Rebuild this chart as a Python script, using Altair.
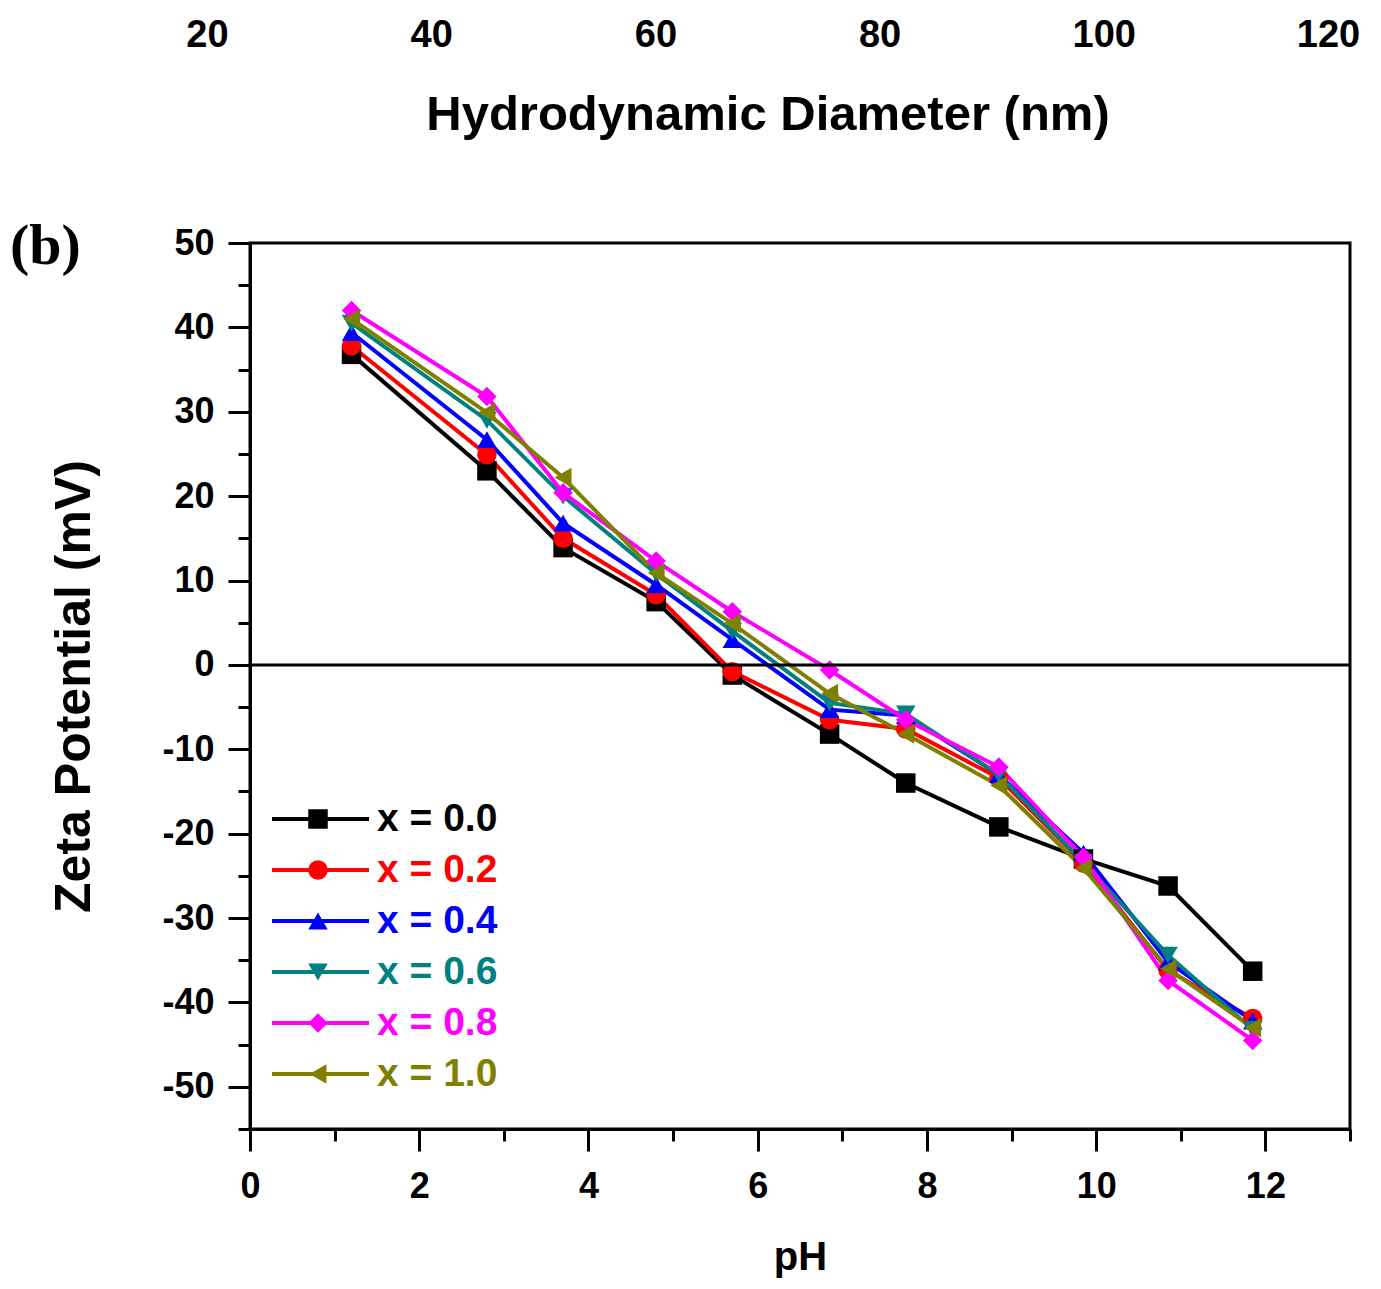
import altair as alt
import pandas as pd

# ---- data ----
ph = [1.2, 2.8, 3.7, 4.8, 5.7, 6.85, 7.75, 8.85, 9.85, 10.85, 11.85]
series_names = ["x = 0.0", "x = 0.2", "x = 0.4", "x = 0.6", "x = 0.8", "x = 1.0"]
zeta_00 = [36.8, 23.0, 13.9, 7.5, -1.2, -8.2, -14.0, -19.2, -23.0, -26.2, -36.3]
zeta_02 = [37.8, 24.9, 15.0, 8.3, -0.8, -6.5, -7.6, -13.4, -23.5, -36.2, -41.9]
zeta_04 = [39.4, 26.7, 16.8, 9.5, 3.0, -5.3, -6.0, -13.0, -22.3, -35.2, -42.2]
zeta_06 = [40.5, 29.0, 20.0, 10.8, 4.0, -4.5, -5.8, -13.0, -23.4, -34.4, -43.2]
zeta_08 = [42.0, 31.8, 20.4, 12.3, 6.3, -0.6, -6.5, -12.1, -22.8, -37.4, -44.5]
zeta_10 = [41.0, 29.9, 22.2, 10.9, 4.9, -3.4, -8.2, -14.3, -24.1, -36.0, -43.0]
all_zeta = [zeta_00, zeta_02, zeta_04, zeta_06, zeta_08, zeta_10]

colors = ["#000000", "#ff0000", "#0000ff", "#008080", "#ff00ff", "#808000"]
shapes = ["square", "circle", "triangle-up", "triangle-down", "diamond", "triangle-left"]

x_major = [0, 2, 4, 6, 8, 10, 12]
x_minor = [1, 3, 5, 7, 9, 11, 13]
y_major = [-50, -40, -30, -20, -10, 0, 10, 20, 30, 40, 50]
y_minor = [-55, -45, -35, -25, -15, -5, 5, 15, 25, 35, 45]
diam_ticks = [20, 40, 60, 80, 100, 120]
panel_label = ["(b)"]

rows = []
for name, vals in zip(series_names, all_zeta):
    for p, z in zip(ph, vals):
        rows.append({"pH": p, "zeta": z, "series": name, "series_m": name})
df = pd.DataFrame(rows)

FONT = "Liberation Sans"

color_expr = ""
for name, col in zip(series_names[:-1], colors[:-1]):
    color_expr += f"datum.value == '{name}' ? '{col}' : "
color_expr += f"'{colors[-1]}'"

line_legend = alt.Legend(
    orient="none", legendX=20, legendY=784, title=None,
    symbolType="stroke", symbolSize=9409, symbolStrokeWidth=4,
    labelFontSize=39, labelFont=FONT, labelFontWeight="bold", labelOffset=6,
    clipHeight=40, rowPadding=11, padding=0,
    labelColor={"expr": color_expr},
)
marker_legend = alt.Legend(
    orient="none", legendX=58, legendY=784, title=None,
    symbolSize=380, symbolStrokeWidth=0, labelExpr="''", labelFontSize=10,
    clipHeight=40, rowPadding=11, padding=0,
)

x_scale = alt.Scale(domain=[0, 13], nice=False, zero=False)
y_scale = alt.Scale(domain=[-55, 50], nice=False, zero=False)

x_major_axis = alt.Axis(values=x_major, tickSize=22, tickWidth=3, domainWidth=3,
                        labelFontSize=36, labelPadding=18, labelFlush=False,
                        title="pH", titleFontSize=40, titlePadding=33,
                        grid=False, orient="bottom")
y_major_axis = alt.Axis(values=y_major, tickSize=22, tickWidth=3, domainWidth=3,
                        labelFontSize=36, labelPadding=14, labelFlush=False,
                        labelExpr="toString(datum.value)",
                        title="Zeta Potential (mV)", titleFontSize=50, titlePadding=62,
                        grid=False, orient="left")
x_minor_axis = alt.Axis(values=x_minor, tickSize=12, tickWidth=3, labels=False,
                        domain=False, grid=False, title=None, orient="bottom")
y_minor_axis = alt.Axis(values=y_minor, tickSize=12, tickWidth=3, labels=False,
                        domain=False, grid=False, title=None, orient="left")

base = alt.Chart(df)

lines = base.mark_line(strokeWidth=4).encode(
    x=alt.X("pH:Q", scale=x_scale, axis=x_major_axis),
    y=alt.Y("zeta:Q", scale=y_scale, axis=y_major_axis),
    stroke=alt.Stroke("series:N", scale=alt.Scale(domain=series_names, range=colors),
                      legend=line_legend),
)

points = base.mark_point(filled=True, size=380, opacity=1).encode(
    x=alt.X("pH:Q", axis=None),
    y=alt.Y("zeta:Q", axis=None),
    fill=alt.Fill("series_m:N", scale=alt.Scale(range=colors), legend=marker_legend),
    shape=alt.Shape("series_m:N", scale=alt.Scale(range=shapes), legend=marker_legend),
)

zero = alt.Chart(pd.DataFrame({"zeta": [0]})).mark_rule(color="black", strokeWidth=3).encode(
    y=alt.Y("zeta:Q", axis=None)
)

minor = base.mark_point(opacity=0).encode(
    x=alt.X("pH:Q", axis=x_minor_axis),
    y=alt.Y("zeta:Q", axis=y_minor_axis),
)

label_b = alt.Chart(pd.DataFrame({"t": panel_label})).mark_text(
    font="Liberation Serif", fontSize=58, fontWeight="bold", align="left",
    baseline="alphabetic", color="black"
).encode(text="t:N", x=alt.value(-240), y=alt.value(21))

main = alt.layer(lines, points, zero, minor, label_b).resolve_axis(
    x="independent", y="independent"
).properties(
    width=1100, height=886,
    view=alt.ViewBackground(stroke="black", strokeWidth=3),
)

top = alt.Chart(pd.DataFrame({"d": diam_ticks})).mark_point(opacity=0, size=1).encode(
    x=alt.X("d:Q",
            scale=alt.Scale(domain=[20, 120], range=[-43, 1078], nice=False, zero=False),
            axis=alt.Axis(values=diam_ticks, ticks=False, tickSize=0, domain=False,
                          grid=False, labelFontSize=38, labelPadding=0, labelFlush=False,
                          title="Hydrodynamic Diameter (nm)", titleFontSize=49,
                          titlePadding=36, orient="bottom"))
).properties(width=1100, height=1, view=alt.ViewBackground(stroke="transparent"))

chart = alt.vconcat(top, main, spacing=76).properties(
    padding={"left": 0, "top": 6, "right": 0, "bottom": 0}
).configure_axis(
    labelFont=FONT, titleFont=FONT, labelFontWeight="bold", titleFontWeight="bold",
    labelColor="black", titleColor="black", tickColor="black", domainColor="black"
)

chart.save("out.html", embed_options={"renderer": "svg", "actions": False})
